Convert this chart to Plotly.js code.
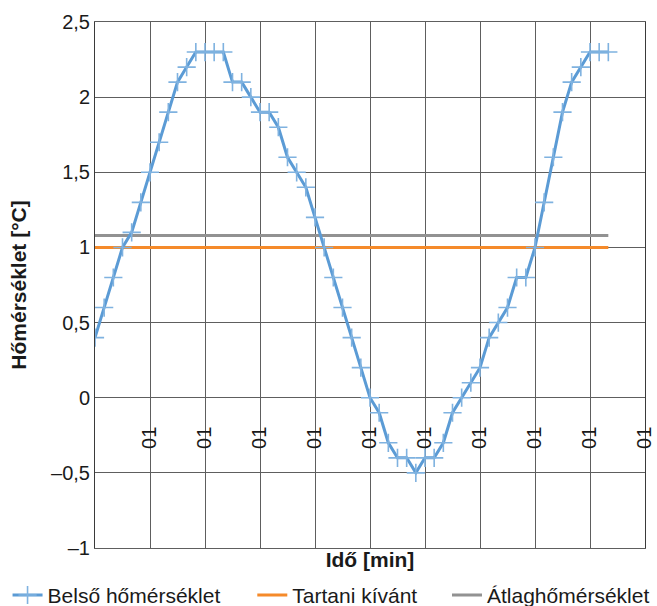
<!DOCTYPE html>
<html>
<head>
<meta charset="utf-8">
<script src="https://cdn.plot.ly/plotly-3.0.1.min.js"></script>
<style>html,body{margin:0;padding:0;background:#fff;}#chart{width:657px;height:606px;}</style>
</head>
<body>
<div id="chart"></div>
<script>
// Time index (sample number)
const idx = [0,1,2,3,4,5,6,7,8,9,10,11,12,13,14,15,16,17,18,19,20,21,22,23,24,25,26,27,28,29,30,31,32,33,34,35,36,37,38,39,40,41,42,43,44,45,46,47,48,49,50,51,52,53,54,55,56];
// Belső hőmérséklet
const belso = [0.4,0.6,0.8,1.0,1.1,1.3,1.5,1.7,1.9,2.1,2.2,2.3,2.3,2.3,2.3,2.1,2.1,2.0,1.9,1.9,1.8,1.6,1.5,1.4,1.2,1.0,0.8,0.6,0.4,0.2,0.0,-0.1,-0.3,-0.4,-0.4,-0.5,-0.4,-0.4,-0.3,-0.1,0.0,0.1,0.2,0.4,0.5,0.6,0.8,0.8,1.0,1.3,1.6,1.9,2.1,2.2,2.3,2.3,2.3];
// Tartani kívánt
const tartani = [1,1,1,1,1,1,1,1,1,1,1,1,1,1,1,1,1,1,1,1,1,1,1,1,1,1,1,1,1,1,1,1,1,1,1,1,1,1,1,1,1,1,1,1,1,1,1,1,1,1,1,1,1,1,1,1,1];
// Átlaghőmérséklet
const atlag = [1.08,1.08,1.08,1.08,1.08,1.08,1.08,1.08,1.08,1.08,1.08,1.08,1.08,1.08,1.08,1.08,1.08,1.08,1.08,1.08,1.08,1.08,1.08,1.08,1.08,1.08,1.08,1.08,1.08,1.08,1.08,1.08,1.08,1.08,1.08,1.08,1.08,1.08,1.08,1.08,1.08,1.08,1.08,1.08,1.08,1.08,1.08,1.08,1.08,1.08,1.08,1.08,1.08,1.08,1.08,1.08,1.08];

const gridVals = [0,6,12,18,24,30,36,42,48,54,60];
const labelVals = [6,12,18,24,30,36,42,48,54,60];
const labelText = ["01","01","01","01","01","01","01","01","01","01"];
const yVals = [-1,-0.5,0,0.5,1,1.5,2,2.5];
const yText = ["\u20131","\u20130,5","0","0,5","1","1,5","2","2,5"];

const FONT = "Liberation Sans, Arial, sans-serif";
const gridColor = "#5e5e5e";

const traces = [
  {x: idx, y: tartani, type: "scatter", mode: "lines", name: "Tartani kívánt",
   line: {color: "#F58A2A", width: 3}, legend: "legend2", hoverinfo: "skip"},
  {x: idx, y: atlag, type: "scatter", mode: "lines", name: "Átlaghőmérséklet",
   line: {color: "#929292", width: 3}, legend: "legend3", hoverinfo: "skip"},
  {x: idx, y: belso, type: "scatter", mode: "lines+markers", name: "Belső hőmérséklet",
   line: {color: "#5B9BD5", width: 3},
   marker: {symbol: "cross-thin", size: 13, color: "#7FB2E0", line: {color: "#7FB2E0", width: 1.6}},
   legend: "legend", hoverinfo: "skip"},
  {x: [], y: [], xaxis: "x2", type: "scatter", mode: "lines", showlegend: false, hoverinfo: "skip"}
];

const legBase = {orientation: "h", yanchor: "middle", y: -0.09, xanchor: "left",
  font: {family: FONT, size: 21, color: "#1a1a1a"}, bgcolor: "rgba(0,0,0,0)", borderwidth: 0};

const layout = {
  width: 657, height: 606,
  margin: {l: 95, r: 12, t: 22, b: 58, autoexpand: false},
  paper_bgcolor: "#fff", plot_bgcolor: "#fff",
  font: {family: FONT, size: 21, color: "#1a1a1a"},
  xaxis: {range: [0, 60], tickvals: gridVals, showticklabels: false, ticks: "",
    showgrid: true, gridcolor: gridColor, gridwidth: 1, zeroline: false,
    showline: true, mirror: true, linecolor: gridColor, linewidth: 1,
    title: {text: "<b>Idő [min]</b>", font: {family: FONT, size: 21}, standoff: 4}},
  xaxis2: {overlaying: "x", anchor: "free", position: 1/3.5, side: "bottom",
    range: [0, 60], tickvals: labelVals, ticktext: labelText, tickangle: -90,
    ticks: "outside", ticklen: 20, tickcolor: "rgba(0,0,0,0)",
    showgrid: false, zeroline: false, showline: false,
    tickfont: {family: FONT, size: 20, color: "#1a1a1a"}},
  yaxis: {range: [-1, 2.5], tickvals: yVals, ticktext: yText, ticks: "",
    showgrid: true, gridcolor: gridColor, gridwidth: 1, zeroline: false,
    showline: true, mirror: true, linecolor: "#3a3a3a", linewidth: 1,
    tickfont: {family: FONT, size: 20, color: "#1a1a1a"},
    title: {text: "<b>Hőmérséklet [°C]</b>", font: {family: FONT, size: 21}, standoff: 18}},
  legend: Object.assign({}, legBase, {x: -0.159}),
  legend2: Object.assign({}, legBase, {x: 0.286}),
  legend3: Object.assign({}, legBase, {x: 0.64}),
  showlegend: true
};

Plotly.newPlot("chart", traces, layout, {displayModeBar: false, staticPlot: true});
</script>
</body>
</html>
